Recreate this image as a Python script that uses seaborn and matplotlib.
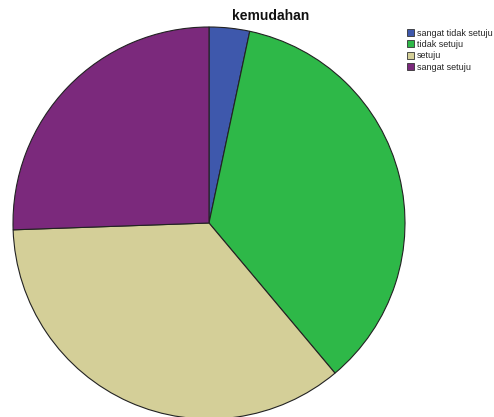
import matplotlib
matplotlib.use("Agg")
import matplotlib.pyplot as plt
import matplotlib.patches as mpatches
import seaborn as sns

categories = ["sangat tidak setuju", "tidak setuju", "setuju", "sangat setuju"]
counts = [3, 32, 32, 23]
colors = ["#3E58AC", "#2EB848", "#D4CF98", "#7B297C"]

sns.set_theme(style="white")
plt.rcParams["font.family"] = ["Liberation Sans", "DejaVu Sans"]
palette = sns.color_palette(colors)

fig = plt.figure(figsize=(4.94, 4.17), dpi=100)
fig.patch.set_facecolor("white")

W, H = 494, 417
cx, cy, r = 209, 223, 196
ax = fig.add_axes([(cx - r) / W, (H - cy - r) / H, 2 * r / W, 2 * r / H])
ax.pie(counts, colors=palette, startangle=90, counterclock=False, radius=1,
       wedgeprops=dict(edgecolor="#222222", linewidth=0.8))
ax.set_xlim(-1, 1)
ax.set_ylim(-1, 1)
ax.set_aspect("equal")
ax.axis("off")

fig.text(271 / W, 1 - 16 / H, "kemudahan", ha="center", va="center",
         fontsize=10, fontweight="bold", color="#111111")

handles = [mpatches.Patch(facecolor=c, edgecolor="#333333", linewidth=0.6) for c in palette]
fig.legend(handles, categories, loc="upper left", bbox_to_anchor=(405 / W, 1 - 27 / H),
           frameon=False, fontsize=6.5, handlelength=0.8, handleheight=0.8,
           handletextpad=0.35, labelspacing=0.25, borderpad=0.2, borderaxespad=0)

fig.savefig("out.png", dpi=100, facecolor="white")
